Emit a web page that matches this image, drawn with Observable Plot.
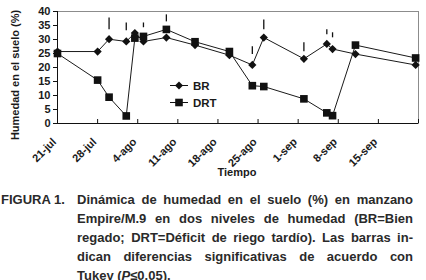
<!DOCTYPE html>
<html>
<head>
<meta charset="utf-8">
<script src="https://cdn.jsdelivr.net/npm/d3@7"></script>
<script src="https://cdn.jsdelivr.net/npm/@observablehq/plot@0.6"></script>
<style>
  html, body { margin: 0; padding: 0; background: #fff; }
  #wrap { position: relative; width: 426px; height: 280px; overflow: hidden; font-family: "Liberation Sans", Arial, sans-serif; color: #1a1a1a; }
  #chart { position: absolute; left: 0; top: 0; }
  .ytitle { position: absolute; left: 15px; top: 75px; transform: translate(-50%, -50%) rotate(-90deg); white-space: nowrap; font-weight: bold; font-size: 11px; }
  .xtitle { position: absolute; left: 237px; top: 172px; transform: translate(-50%, -50%); font-weight: bold; font-size: 11px; }
  .legend { position: absolute; left: 168px; top: 77px; font-size: 11.5px; font-weight: bold; }
  .legend div { display: flex; align-items: center; height: 17px; }
  .legend span { margin-left: 3px; }
  #caption { position: absolute; left: 0; top: 190px; width: 414px; font-weight: bold; font-size: 13px; line-height: 19px; color: #2a2a2a; }
  #caption .lab { position: absolute; left: 1px; top: 0; }
  #caption .lines { position: absolute; left: 77px; top: 0; width: 336px; }
  #caption .ln { text-align: justify; text-align-last: justify; white-space: nowrap; }
  #caption .ln.last { text-align-last: left; }
</style>
</head>
<body>
<div id="wrap">
  <div id="chart"></div>
  <div class="ytitle">Humedad en el suelo (%)</div>
  <div class="xtitle">Tiempo</div>
  <div class="legend" id="legend"></div>
  <div id="caption"></div>
</div>
<script>
// ---- data ----
const dates = ["2008-07-21","2008-07-28","2008-07-30","2008-08-02","2008-08-03T12:00","2008-08-05","2008-08-09","2008-08-14","2008-08-20","2008-08-24","2008-08-26","2008-09-02","2008-09-06","2008-09-07","2008-09-11","2008-09-21T12:00"];
const brValues  = [25.7, 25.7, 30.1, 29.3, 32.3, 29.3, 30.7, 28.0, 24.4, 20.9, 30.7, 23.1, 28.4, 26.6, 24.8, 20.9];
const drtValues = [25.0, 15.5,  9.4,  2.7, 30.5, 31.1, 33.6, 29.2, 25.7, 13.5, 13.2,  8.8,  3.8,  2.8, 28.0, 23.4];

const barDates = ["2008-07-30","2008-08-02","2008-08-05","2008-08-09","2008-08-24","2008-08-26","2008-09-02","2008-09-06","2008-09-07"];
const barLow   = [33.5, 33.1, 34.2, 36.3, 24.6, 33.5, 25.6, 31.7, 30.6];
const barHigh  = [37.7, 35.9, 35.9, 38.8, 27.4, 37.0, 28.8, 33.5, 32.4];

const tickDates = ["2008-07-21","2008-07-28","2008-08-04","2008-08-11","2008-08-18","2008-08-25","2008-09-01","2008-09-08","2008-09-15","2008-09-22"];
const tickLabels = ["21-jul","28-jul","4-ago","11-ago","18-ago","25-ago","1-sep","8-sep","15-sep",""];
const yTicks = [0,5,10,15,20,25,30,35,40];

const seriesNames = ["BR","DRT"];
const captionLabel = "FIGURA 1.";
const captionLines = [
  "Dinámica de humedad en el suelo (%) en manzano",
  "Empire/M.9 en dos niveles de humedad (BR=Bien",
  "regado; DRT=Déficit de riego tardío). Las barras in-",
  "dican diferencias significativas de acuerdo con",
  "Tukey (<i>P</i>≤0.05)."
];

// ---- build ----
const parse = s => new Date(s + (s.length === 10 ? "T00:00Z" : "Z"));
const br = dates.map((d, i) => ({date: parse(d), v: brValues[i]}));
const drt = dates.map((d, i) => ({date: parse(d), v: drtValues[i]}));
const bars = barDates.map((d, i) => ({date: parse(d), lo: barLow[i], hi: barHigh[i]}));
const ticks = tickDates.map(parse);
const labelMap = new Map(ticks.map((t, i) => [+t, tickLabels[i]]));
const fmt = d => labelMap.get(+d) ?? "";

const chart = Plot.plot({
  width: 426,
  height: 185,
  marginLeft: 57,
  marginRight: 8,
  marginTop: 11,
  marginBottom: 62,
  style: {fontFamily: "'Liberation Sans', Arial, sans-serif", fontSize: "11px", fontWeight: "bold", color: "#1a1a1a", background: "transparent", overflow: "visible"},
  x: {type: "utc", domain: [ticks[0], ticks[ticks.length - 1]]},
  y: {domain: [0, 40]},
  marks: [
    Plot.frame({stroke: "#8c8c8c", strokeWidth: 1}),
    Plot.ruleY([0], {stroke: "#111"}),
    Plot.ruleX([ticks[0]], {stroke: "#111"}),
    Plot.axisY({ticks: yTicks, tickSize: 4, tickPadding: 3, label: null, stroke: "#111"}),
    Plot.axisX({ticks: ticks, tickSize: -4, text: null, label: null, stroke: "#111"}),
    Plot.text(ticks, {x: d => d, frameAnchor: "bottom", text: fmt, rotate: -45, textAnchor: "end", lineAnchor: "middle", fill: "#1a1a1a"}),
    Plot.line(br, {x: "date", y: "v", stroke: "#1a1a1a", strokeWidth: 1}),
    Plot.line(drt, {x: "date", y: "v", stroke: "#1a1a1a", strokeWidth: 1}),
    Plot.dot(br, {x: "date", y: "v", symbol: "diamond2", r: 3.7, fill: "#111", stroke: "none"}),
    Plot.dot(drt, {x: "date", y: "v", symbol: "square", r: 4.3, fill: "#111", stroke: "none"}),
    Plot.ruleX(bars, {x: "date", y1: "lo", y2: "hi", stroke: "#111", strokeWidth: 1.3})
  ]
});
// shift rotated x tick labels in screen space (below the axis, Excel style)
const labelShift = [-3, 16.5];
chart.querySelectorAll('g[aria-label="text"] text').forEach(t => {
  const tr = t.getAttribute("transform") || "";
  const m = tr.match(/translate\(\s*([-\d.e]+)[,\s]+([-\d.e]+)\s*\)(.*)/);
  if (m) t.setAttribute("transform", `translate(${+m[1] + labelShift[0]},${+m[2] + labelShift[1]})${m[3]}`);
});
document.getElementById("chart").appendChild(chart);

// legend
const legend = document.getElementById("legend");
const sym = {
  BR: '<path d="M11,0.5 L15,4.5 L11,8.5 L7,4.5 Z" fill="#111"/>',
  DRT: '<rect x="7.2" y="0.7" width="7.6" height="7.6" fill="#111"/>'
};
seriesNames.forEach(n => {
  const row = document.createElement("div");
  row.innerHTML = `<svg width="22" height="9"><line x1="2" y1="4.5" x2="20" y2="4.5" stroke="#111" stroke-width="1"/>${sym[n]}</svg><span>${n}</span>`;
  legend.appendChild(row);
});

// caption
const cap = document.getElementById("caption");
cap.innerHTML = `<div class="lab">${captionLabel}</div><div class="lines">` +
  captionLines.map((l, i) => `<div class="ln${i === captionLines.length - 1 ? " last" : ""}">${l}</div>`).join("") + `</div>`;
</script>
</body>
</html>
